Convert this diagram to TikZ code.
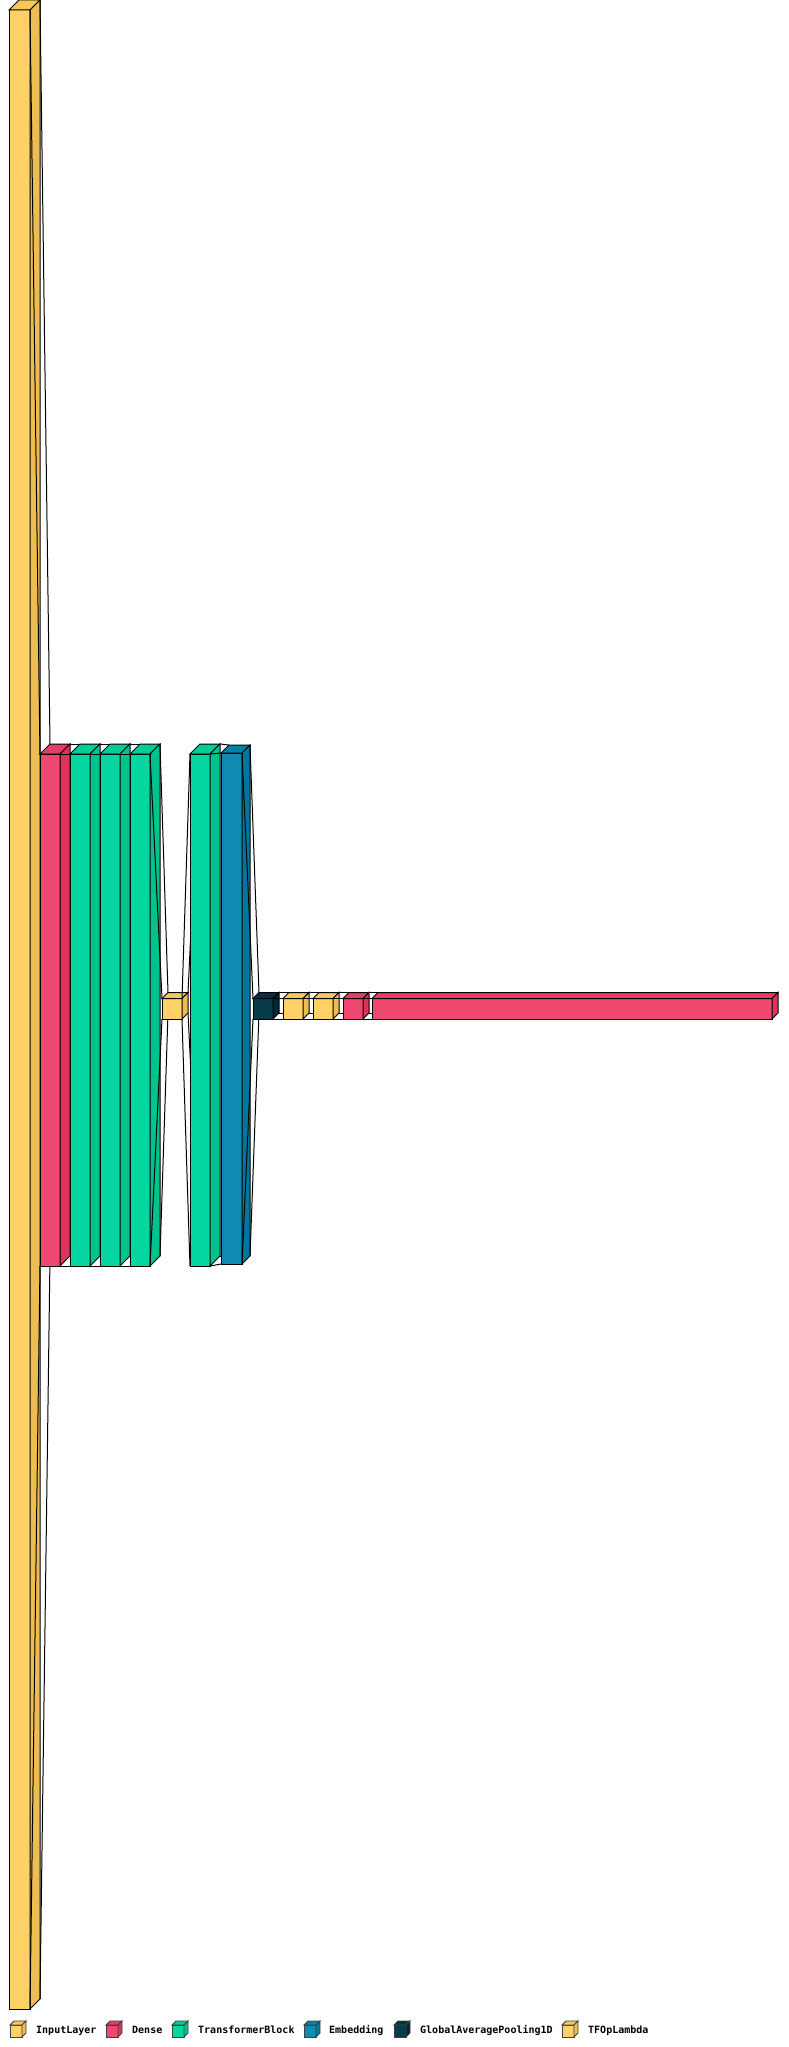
\documentclass[tikz,border=0pt]{standalone}
\usepackage{fontspec}
\newfontfamily\legendfont{DejaVu Sans Mono}
\definecolor{yelF}{HTML}{FFD166}\definecolor{yelT}{HTML}{F5C75C}\definecolor{yelS}{HTML}{EBBD52}
\definecolor{redF}{HTML}{EF476F}\definecolor{redT}{HTML}{E53D65}\definecolor{redS}{HTML}{DB335B}
\definecolor{grnF}{HTML}{06D6A0}\definecolor{grnT}{HTML}{00CC96}\definecolor{grnS}{HTML}{00C28C}
\definecolor{bluF}{HTML}{118AB2}\definecolor{bluT}{HTML}{0780A8}\definecolor{bluS}{HTML}{00769E}
\definecolor{drkF}{HTML}{073B4C}\definecolor{drkT}{HTML}{003142}\definecolor{drkS}{HTML}{002738}
\tikzset{
  boxline/.style={draw=black, line width=1pt, line join=miter},
  legline/.style={draw=black!75, line width=0.8pt, line join=miter},
  funnelline/.style={draw=black, line width=1pt},
  legtext/.style={anchor=base west, inner sep=0pt, font=\legendfont\bfseries\fontsize{10}{12}\selectfont},
}
% name x1 y1 x2 y2 depth
\newcommand\defbox[6]{%
  \coordinate (#1-fl) at (#2,#3);
  \coordinate (#1-fr) at (#4,#3);
  \coordinate (#1-bl) at (#2,#5);
  \coordinate (#1-br) at (#4,#5);
  \coordinate (#1-tl) at ({#2+#6},{#3-#6});
  \coordinate (#1-tr) at ({#4+#6},{#3-#6});
  \coordinate (#1-dr) at ({#4+#6},{#5-#6});
  \coordinate (#1-dl) at ({#2+#6},{#5-#6});
}
% name colorprefix style
\newcommand\drawbox[3]{%
  \filldraw[#3, fill=#2F] (#1-fl) rectangle (#1-br);
  \filldraw[#3, fill=#2T] (#1-fl) -- (#1-tl) -- (#1-tr) -- (#1-fr) -- cycle;
  \filldraw[#3, fill=#2S] (#1-fr) -- (#1-tr) -- (#1-dr) -- (#1-br) -- cycle;
}
\newcommand\funnel[2]{%
  \draw[funnelline] (#1-tr) -- (#2-tl);
  \draw[funnelline] (#1-dr) -- (#2-dl);
  \draw[funnelline] (#1-br) -- (#2-bl);
  \draw[funnelline] (#1-fr) -- (#2-fl);
}
\begin{document}
\begin{tikzpicture}[x=1pt, y=-1pt]
\useasboundingbox (0,0) rectangle (789,2047);
\fill[white] (0,0) rectangle (789,2047);
% layer boxes
\defbox{in}{9}{10}{30}{2009}{10}
\defbox{dense1}{40}{754}{60}{1266}{10}
\defbox{tb1}{70}{754}{90}{1266}{10}
\defbox{tb2}{100}{754}{120}{1266}{10}
\defbox{tb3}{130}{754}{150}{1266}{10}
\defbox{lam1}{162}{998.5}{182}{1019}{6}
\defbox{tb4}{190}{754}{210}{1266}{10}
\defbox{emb}{221}{753}{242}{1264}{8}
\defbox{gap}{253}{998.5}{273}{1019}{6}
\defbox{lam2}{283}{998.5}{303}{1019}{6}
\defbox{lam3}{313}{998.5}{333}{1019}{6}
\defbox{dense2}{343}{998.5}{363}{1019}{6}
\defbox{dense3}{372}{998.5}{772}{1019}{6}
\drawbox{in}{yel}{boxline}
\funnel{in}{dense1}\drawbox{dense1}{red}{boxline}
\funnel{dense1}{tb1}\drawbox{tb1}{grn}{boxline}
\funnel{tb1}{tb2}\drawbox{tb2}{grn}{boxline}
\funnel{tb2}{tb3}\drawbox{tb3}{grn}{boxline}
\funnel{tb3}{lam1}\drawbox{lam1}{yel}{boxline}
\funnel{lam1}{tb4}\drawbox{tb4}{grn}{boxline}
\funnel{tb4}{emb}\drawbox{emb}{blu}{boxline}
\funnel{emb}{gap}\drawbox{gap}{drk}{boxline}
\funnel{gap}{lam2}\drawbox{lam2}{yel}{boxline}
\funnel{lam2}{lam3}\drawbox{lam3}{yel}{boxline}
\funnel{lam3}{dense2}\drawbox{dense2}{red}{boxline}
\funnel{dense2}{dense3}\drawbox{dense3}{red}{boxline}
% legend
\defbox{lgA}{10}{2025}{22}{2037}{4}\drawbox{lgA}{yel}{legline}
\node[legtext] (ltA) at (36,2033) {InputLayer};
\defbox{lgB}{106}{2025}{118}{2037}{4}\drawbox{lgB}{red}{legline}
\node[legtext] (ltB) at (132,2033) {Dense};
\defbox{lgC}{172}{2025}{184}{2037}{4}\drawbox{lgC}{grn}{legline}
\node[legtext] (ltC) at (198,2033) {TransformerBlock};
\defbox{lgD}{304}{2025}{316}{2037}{4}\drawbox{lgD}{blu}{legline}
\node[legtext] (ltD) at (329,2033) {Embedding};
\defbox{lgE}{394}{2025}{406}{2037}{4}\drawbox{lgE}{drk}{legline}
\node[legtext] (ltE) at (420,2033) {GlobalAveragePooling1D};
\defbox{lgF}{562}{2025}{574}{2037}{4}\drawbox{lgF}{yel}{legline}
\node[legtext] (ltF) at (588,2033) {TFOpLambda};
\end{tikzpicture}
\end{document}
